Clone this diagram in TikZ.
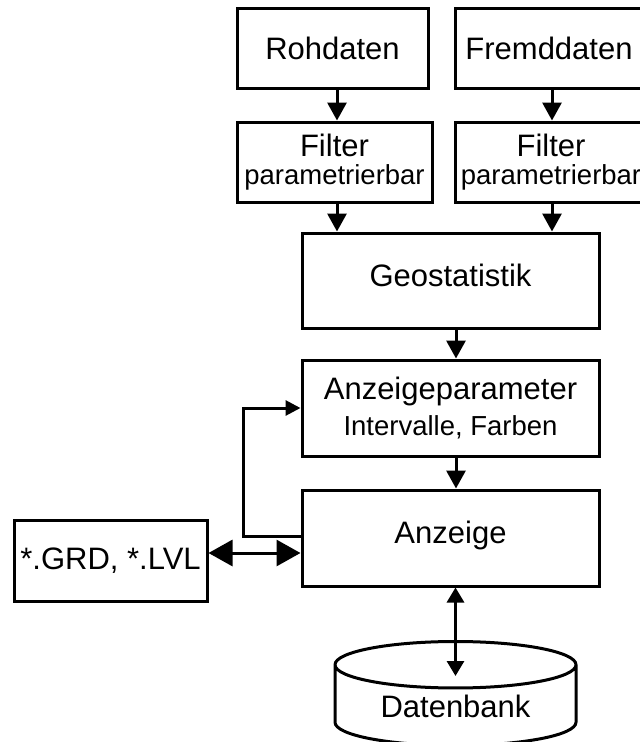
\documentclass[tikz,border=0pt]{standalone}
\usepackage{fontspec}
\setmainfont{Liberation Sans}
\usepackage{tikz}
\usetikzlibrary{arrows.meta}
\usetikzlibrary{calc}
\usetikzlibrary{shapes.geometric}
\newcommand{\subtxt}[1]{{\fontsize{27.5}{30}\selectfont #1}}

\begin{document}
\begin{tikzpicture}[x=1pt, y=-1pt,
    box/.style={draw, line width=3pt, inner sep=0pt, align=center,
      font=\fontsize{31}{34}\selectfont},
    arr/.style={line width=3pt, -{Triangle[width=19pt,length=18pt]}}]

      \useasboundingbox (0,0) rectangle (640,742);

      \node [box, minimum width=191pt, minimum height=80pt] (roh) at (332.5,48) {Rohdaten};
      \node [box, minimum width=210pt, minimum height=80pt] (fremd) at (560,48) {\hspace*{-22pt}Fremddaten};
      \node [box, minimum width=195pt, minimum height=80pt] (fil1) at (334.5,162) {Filter\\[-6pt]\subtxt{parametrierbar}};
      \node [box, minimum width=210pt, minimum height=80pt] (fil2) at (560,162) {\hspace*{-18pt}Filter\\[-6pt]\hspace*{-18pt}\subtxt{parametrierbar}};
      \node [box, minimum width=297pt, minimum height=95pt] (geo) at (450.5,280.5)
            {\raisebox{5pt}[\height][\depth]{Geostatistik}};
      \node [box, minimum width=297pt, minimum height=96pt] (par) at (450.5,408) {Anzeigeparameter\\[2pt]\subtxt{Intervalle, Farben}};
      \node [box, minimum width=297pt, minimum height=96pt] (anz) at (450.5,538)
            {\raisebox{3pt}[\height][\depth]{Anzeige}};
      \node [box, minimum width=193pt, minimum height=81pt] (grd) at (110.5,560.5) {*.GRD, *.LVL};
      \node [box, cylinder, shape border rotate=90, aspect=0.31, anchor=top,
             minimum width=241pt, minimum height=104pt] (db) at (455.5,640)
            {\raisebox{-1pt}[\height][\depth]{Datenbank}};

      \draw [arr] ([xshift=4.5pt]roh.south) -- ([xshift=4.5pt]roh.south |- fil1.north);
      \draw [arr] ([xshift=-8pt]fremd.south) -- ([xshift=-8pt]fremd.south |- fil2.north);
      \draw [arr] ([xshift=2.5pt]fil1.south) -- ([xshift=2.5pt]fil1.south |- geo.north);
      \draw [arr] ([xshift=-8pt]fil2.south) -- ([xshift=-8pt]fil2.south |- geo.north);
      \draw [arr] ([xshift=5.5pt]geo.south) -- ([xshift=5.5pt]par.north);
      \draw [arr] ([xshift=5.5pt]par.south) -- ([xshift=5.5pt]anz.north);
      \draw [line width=3pt, -{Triangle[width=15pt,length=15pt]}]
            ([yshift=2pt]anz.west) -- ++(-57,0) |- (par.west);
      \draw [line width=3pt, {Triangle[width=26pt,length=24pt]}-{Triangle[width=26pt,length=24pt]}]
            ([yshift=7.5pt]grd.east) -- ([yshift=7.5pt]grd.east -| anz.west);
      \draw [line width=3pt, {Triangle[width=17pt,length=15pt]}-{Triangle[width=17pt,length=15pt]}]
            (anz.south -| db.top) -- ($(db.top)+(0,36)$);

    \end{tikzpicture}
\end{document}
